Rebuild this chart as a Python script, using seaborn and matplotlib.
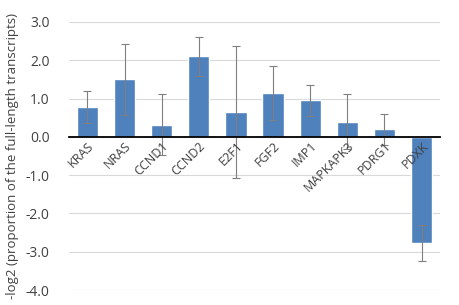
import numpy as np
import pandas as pd
import matplotlib
matplotlib.use("Agg")
import matplotlib.pyplot as plt
import seaborn as sns

# values
genes = ["KRAS", "NRAS", "CCND1", "CCND2", "E2F1", "FGF2", "IMP1", "MAPKAPK3", "PDRG1", "PDXK"]
values = [0.77, 1.50, 0.32, 2.10, 0.65, 1.14, 0.95, 0.40, 0.20, -2.77]
errors = [0.42, 0.92, 0.80, 0.52, 1.73, 0.70, 0.40, 0.72, 0.40, 0.47]
yticks = [3.0, 2.0, 1.0, 0.0, -1.0, -2.0, -3.0, -4.0]

df = pd.DataFrame({"gene": genes, "value": values, "err": errors})

sns.set_style("white")
plt.rcParams["font.family"] = ["Open Sans", "DejaVu Sans"]

fig = plt.figure(figsize=(4.59, 3.05), dpi=100)
ax = fig.add_axes([0.150, 0.049, 0.809, 0.879])

sns.barplot(data=df, x="gene", y="value", color="#4f81bd", width=0.57,
            saturation=1, errorbar=None, ax=ax, zorder=2)
ax.errorbar(np.arange(len(genes)), df["value"], yerr=df["err"], fmt="none",
            ecolor="#7f7f7f", elinewidth=0.8, capsize=3, capthick=0.8, zorder=3)

ax.set_xlim(-0.5, len(genes) - 0.5)
ax.set_ylim(-4.0, 3.0)
ax.set_yticks(yticks)
ax.set_yticklabels([f"{t:.1f}" for t in yticks], fontsize=10, color="#404040")
ax.yaxis.grid(True, color="#d9d9d9", linewidth=0.8)
ax.set_axisbelow(True)
# x tick labels sit in front of the bars, as in the reference
ax.xaxis.set_zorder(5)

for s in ["top", "right", "left"]:
    ax.spines[s].set_visible(False)
ax.spines["bottom"].set_position(("data", 0))
ax.spines["bottom"].set_color("black")
ax.spines["bottom"].set_linewidth(1.3)
ax.spines["bottom"].set_zorder(4)
ax.tick_params(axis="both", length=0)
ax.tick_params(axis="y", pad=14)

ax.set_xlabel("")
ax.set_xticks(np.arange(len(genes)))
ax.set_xticklabels(genes, rotation=45, ha="right", rotation_mode="anchor",
                   fontsize=9, color="#404040")
ax.tick_params(axis="x", pad=2)

ax.set_ylabel("-log2 (proportion of the full-length transcripts)", fontsize=9.5,
              color="#404040")
ax.yaxis.set_label_coords(-0.135, 0.5)

fig.savefig("out.png", dpi=100)
